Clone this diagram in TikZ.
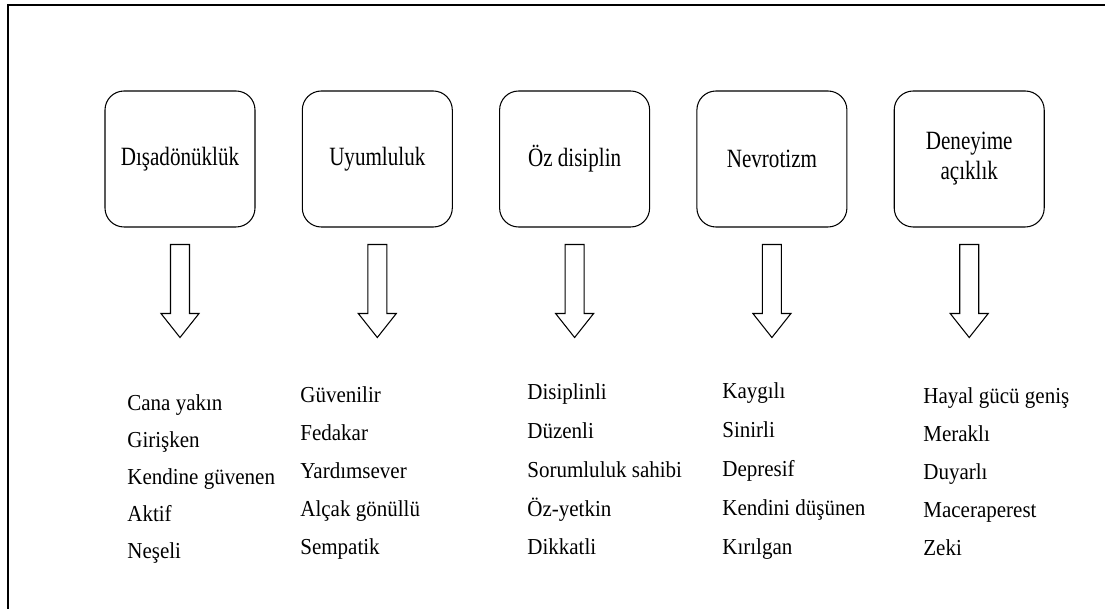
\documentclass[tikz,border=0pt]{standalone}
\usepackage{fontspec}
\setmainfont{Liberation Serif}
\newfontfamily\boxfont{Liberation Serif}[FakeStretch=0.8]
\newfontfamily\listfont{Liberation Serif}[FakeStretch=0.92]
\usetikzlibrary{positioning}

\tikzset{
  trait box/.style={draw, line width=0.6pt, rounded corners=0.38cm,
    minimum width=3cm, minimum height=2.72cm, align=center,
    font=\boxfont\fontsize{15}{17}\selectfont},
  trait item/.style={anchor=base west, inner sep=0pt,
    font=\listfont\fontsize{13}{15}\selectfont},
  hollow arrow/.pic={
    \draw[line width=0.6pt] (-0.19,0) -- (-0.19,-1.38) -- (-0.38,-1.38) -- (0,-1.86)
      -- (0.38,-1.38) -- (0.19,-1.38) -- (0.19,0) -- cycle;
  }
}

\begin{document}
\begin{tikzpicture}
  \useasboundingbox (0,0) rectangle (22.1,12.18);
  % page frame (top and left only)
  \draw[line width=1.2pt] (0.16,0) -- (0.16,12.08) -- (22.1,12.08);

  % the five factors
  \node[trait box] (extra) at (3.6,9.0) {Dışadönüklük};
  \node[trait box, right=0.925cm of extra] (agree) {Uyumluluk};
  \node[trait box, right=0.925cm of agree] (consc) {Öz disiplin};
  \node[trait box, right=0.925cm of consc] (neuro) {Nevrotizm};
  \node[trait box, right=0.925cm of neuro] (open) {Deneyime\\açıklık};

  % hollow arrows under each box
  \foreach \b in {extra,agree,consc,neuro,open}
    \pic at ([yshift=-0.34cm]\b.south) {hollow arrow};

  % trait lists
  \foreach \t [count=\i] in {Cana yakın,Girişken,Kendine güvenen,Aktif,Neşeli}
    \node[trait item] (extra-\i) at (2.54,{4.70-0.74*\i}) {\t};
  \foreach \t [count=\i] in {Güvenilir,Fedakar,Yardımsever,Alçak gönüllü,Sempatik}
    \node[trait item] (agree-\i) at (6.0,{4.88-0.76*\i}) {\t};
  \foreach \t [count=\i] in {Disiplinli,Düzenli,Sorumluluk sahibi,Öz-yetkin,Dikkatli}
    \node[trait item] (consc-\i) at (10.54,{4.955-0.775*\i}) {\t};
  \foreach \t [count=\i] in {Kaygılı,Sinirli,Depresif,Kendini düşünen,Kırılgan}
    \node[trait item] (neuro-\i) at (14.44,{4.98-0.78*\i}) {\t};
  \foreach \t [count=\i] in {Hayal gücü geniş,Meraklı,Duyarlı,Maceraperest,Zeki}
    \node[trait item] (open-\i) at (18.46,{4.86-0.76*\i}) {\t};
\end{tikzpicture}
\end{document}
